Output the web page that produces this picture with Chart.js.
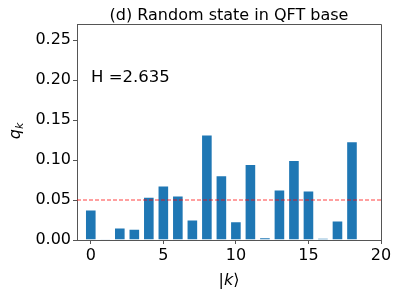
<!DOCTYPE html>
<html>
<head>
<meta charset="utf-8">
<script src="https://cdn.jsdelivr.net/npm/chart.js@4"></script>
<style>
    body { margin: 0; background: #fff; }
    #wrap { width: 399px; height: 299px; }
</style>
</head>
<body>
<div id="wrap"><canvas id="chart" width="399" height="299"></canvas></div>
<script>
// data
const states = [0, 1, 2, 3, 4, 5, 6, 7, 8, 9, 10, 11, 12, 13, 14, 15, 16, 17, 18];
const qValues = [0.038, 0.001, 0.0155, 0.014, 0.054, 0.068, 0.0555, 0.0255, 0.132, 0.081, 0.0235, 0.095, 0.0035, 0.063, 0.100, 0.062, 0.0025, 0.0245, 0.1235];
const threshold = 0.05;
const xTicks = [0, 5, 10, 15, 20];
const yTicks = [0, 0.05, 0.10, 0.15, 0.20, 0.25];
const titleText = '(d) Random state in QFT base';
const entropyText = 'H =2.635';

const FONT = 'DejaVu Sans';

// frame + texts that matplotlib draws around the axes
const decorPlugin = {
    id: 'decor',
    afterDraw(chart) {
        const ctx = chart.ctx;
        const a = chart.chartArea;
        ctx.save();

        // top and right spines
        ctx.strokeStyle = '#555';
        ctx.lineWidth = 1;
        ctx.beginPath();
        ctx.moveTo(a.left, a.top + 0.5);
        ctx.lineTo(a.right + 0.5, a.top + 0.5);
        ctx.lineTo(a.right + 0.5, a.bottom);
        ctx.stroke();

        ctx.fillStyle = '#000';

        // title
        ctx.font = `16px "${FONT}"`;
        ctx.textAlign = 'center';
        ctx.textBaseline = 'alphabetic';
        ctx.fillText(titleText, (a.left + a.right) / 2, 20);

        // H text
        ctx.textAlign = 'left';
        ctx.font = `16.5px "${FONT}"`;
        ctx.fillText(entropyText, a.left + 14, 82);

        // x label |k>
        const parts = [
            { t: '|', f: `16px "${FONT}"` },
            { t: 'k', f: `oblique 16px "${FONT}"` },
            { t: '\u27E9', f: `16px "${FONT}"` }
        ];
        let total = 0;
        parts.forEach(p => { ctx.font = p.f; p.w = ctx.measureText(p.t).width; total += p.w; });
        let x = (a.left + a.right) / 2 - total / 2;
        parts.forEach(p => { ctx.font = p.f; ctx.fillText(p.t, x, 285); x += p.w; });

        // y label q_k, rotated
        ctx.translate(20, 131);
        ctx.rotate(-Math.PI / 2);
        ctx.font = `oblique 16px "${FONT}"`;
        const qw = ctx.measureText('q').width;
        ctx.font = `oblique 11px "${FONT}"`;
        const kw = ctx.measureText('k').width;
        const start = -(qw + kw) / 2;
        ctx.font = `oblique 16px "${FONT}"`;
        ctx.fillText('q', start, 0);
        ctx.font = `oblique 11px "${FONT}"`;
        ctx.fillText('k', start + qw, 3);

        ctx.restore();
    }
};

const ctx = document.getElementById('chart').getContext('2d');
new Chart(ctx, {
    type: 'bar',
    data: {
        datasets: [
            {
                type: 'bar',
                data: states.map((k, i) => ({ x: k, y: qValues[i] })),
                backgroundColor: '#1f77b4',
                borderColor: 'rgba(255,255,255,0.55)',
                borderWidth: 1,
                barPercentage: 0.8,
                categoryPercentage: 1.0,
                order: 2
            },
            {
                type: 'line',
                data: [{ x: -0.95, y: threshold }, { x: 20, y: threshold }],
                borderColor: 'rgba(255,0,0,0.75)',
                borderWidth: 1,
                borderDash: [4, 2],
                pointRadius: 0,
                fill: false,
                order: 1
            }
        ]
    },
    options: {
        responsive: false,
        animation: false,
        layout: { padding: { top: 24, right: 18, left: 0, bottom: 0 } },
        plugins: {
            legend: { display: false },
            tooltip: { enabled: false }
        },
        scales: {
            x: {
                type: 'linear',
                offset: false,
                min: -0.95,
                max: 20,
                afterBuildTicks: s => { s.ticks = xTicks.map(v => ({ value: v })); },
                afterFit: s => { s.height = 59; },
                grid: { offset: false, drawOnChartArea: false, drawTicks: true, tickLength: 4, color: '#555' },
                border: { color: '#555', width: 1 },
                ticks: {
                    color: '#000',
                    padding: 2,
                    maxRotation: 0,
                    font: { family: FONT, size: 16 },
                    callback: v => String(v)
                }
            },
            y: {
                min: 0,
                max: 0.27,
                afterBuildTicks: s => { s.ticks = yTicks.map(v => ({ value: v })); },
                afterFit: s => { s.width = 77; },
                grid: { drawOnChartArea: false, drawTicks: true, tickLength: 4, color: '#555' },
                border: { color: '#555', width: 1 },
                ticks: {
                    color: '#000',
                    padding: 2,
                    font: { family: FONT, size: 16 },
                    callback: v => Number(v).toFixed(2)
                }
            }
        }
    },
    plugins: [decorPlugin]
});
</script>
</body>
</html>
